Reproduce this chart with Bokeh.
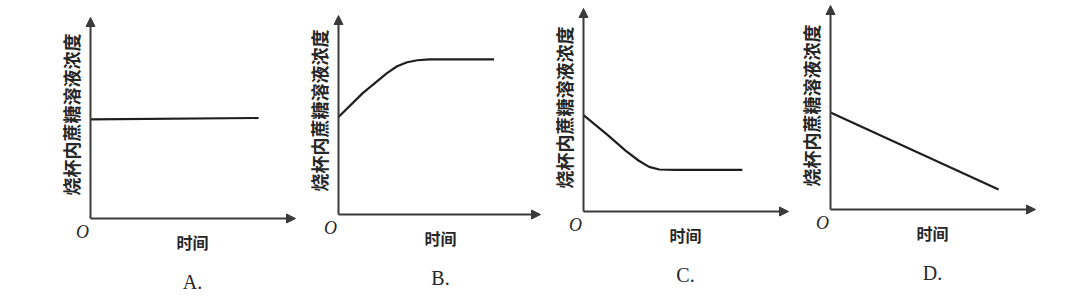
import math
from bokeh.plotting import figure
from bokeh.layouts import row
from bokeh.models import Arrow, NormalHead
from bokeh.core.properties import value
from bokeh.embed import file_html
from bokeh.resources import INLINE

# ---- data ----
panel_names = ["A.", "B.", "C.", "D."]
y_label = "烧杯内蔗糖溶液浓度"
x_label = "时间"
origin_label = "O"
axis_max = 10

a_time = [0, 8.2]
a_conc = [4.93, 5.0]
b_time = [0, 1.2, 2.4, 2.9, 3.4, 3.9, 4.5, 7.7]
b_conc = [4.9, 6.1, 7.1, 7.45, 7.65, 7.75, 7.8, 7.8]
c_time = [0, 1.2, 2.05, 2.7, 3.2, 3.7, 4.5, 7.75]
c_conc = [4.75, 3.75, 3.0, 2.5, 2.2, 2.07, 2.05, 2.05]
d_time = [0, 8.2]
d_conc = [4.75, 0.98]

series = [(a_time, a_conc), (b_time, b_conc), (c_time, c_conc), (d_time, d_conc)]

# ---- layout (pixels): fig_left, fig_width, origin_x, origin_y, x_tip, y_tip ----
H = 302
layout = [
    (0, 303, 90, 218, 295, 17),
    (303, 247, 338, 214, 540, 15),
    (550, 248, 583, 211, 788, 8),
    (798, 288, 830, 209, 1035, 5),
]

AXIS_COLOR = "#3a3a3a"
LINE_COLOR = "#1e1e1e"
TEXT_COLOR = "#262626"
CJK = value("Noto Sans CJK SC")
SERIF = value("Liberation Serif")

figs = []
for (left, W, ox, oy, xt, yt), (t, c), name in zip(layout, series, panel_names):
    sx = (xt - ox) / axis_max
    sy = (oy - yt) / axis_max
    x0 = -(ox - left) / sx
    x1 = (left + W - ox) / sx
    y0 = -(H - oy) / sy
    y1 = oy / sy
    p = figure(width=W, height=H, x_range=(x0, x1), y_range=(y0, y1),
               x_axis_type=None, y_axis_type=None, toolbar_location=None,
               output_backend="svg", min_border=0, outline_line_color=None,
               background_fill_color="white", border_fill_color="white")
    # axes with arrowheads
    for xe, ye in [(axis_max, 0), (0, axis_max)]:
        p.add_layout(Arrow(x_start=0, y_start=0, x_end=xe, y_end=ye,
                           line_color=AXIS_COLOR, line_width=2,
                           end=NormalHead(size=9, fill_color=AXIS_COLOR,
                                          line_color=AXIS_COLOR)))
    # curve
    p.line(t, c, line_color=LINE_COLOR, line_width=2.2, line_join="round")
    # texts
    p.text([0], [0], text=[y_label], angle=math.pi / 2, x_offset=-20, y_offset=-104,
           text_font=CJK, text_font_size="18px", text_font_style="bold",
           text_color=TEXT_COLOR, text_align="center", text_baseline="middle")
    p.text([0], [0], text=[origin_label], x_offset=-8, y_offset=13,
           text_font=SERIF, text_font_size="18px", text_font_style="italic",
           text_color=TEXT_COLOR, text_align="center", text_baseline="middle")
    p.text([0], [0], text=[x_label], x_offset=102, y_offset=23,
           text_font=CJK, text_font_size="16px", text_font_style="bold",
           text_color=TEXT_COLOR, text_align="center", text_baseline="middle")
    p.text([0], [0], text=[name], x_offset=102, y_offset=63,
           text_font=SERIF, text_font_size="20px",
           text_color=TEXT_COLOR, text_align="center", text_baseline="middle")
    figs.append(p)

layout_row = row(*figs, spacing=0)
open("out.html", "w").write(file_html(layout_row, INLINE))
